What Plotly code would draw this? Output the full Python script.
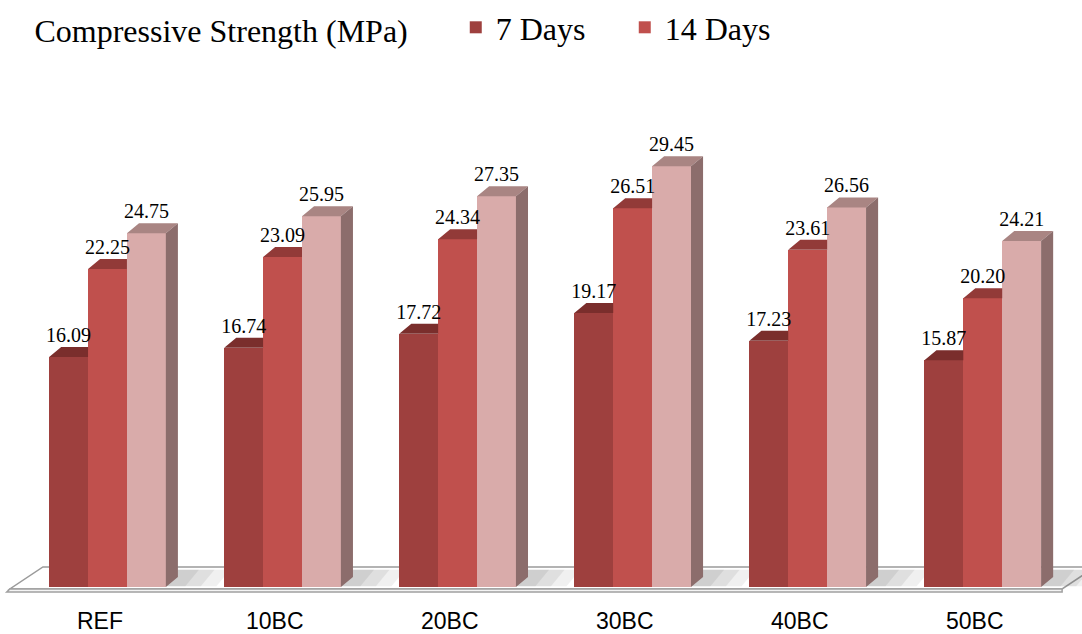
import plotly.graph_objects as go

# ---- data -------------------------------------------------------------
mixes = ["REF", "10BC", "20BC", "30BC", "40BC", "50BC"]
days_7 = [16.09, 16.74, 17.72, 19.17, 17.23, 15.87]
days_14 = [22.25, 23.09, 24.34, 26.51, 23.61, 20.20]
days_28 = [24.75, 25.95, 27.35, 29.45, 26.56, 24.21]

# ---- geometry (axis units) --------------------------------------------
GAP = 4.5          # distance between mix groups
W = 1.0            # bar width
DX, DV = 0.31, 0.70  # depth offset for the pseudo-3D faces

SERIF = "Liberation Serif, Times New Roman, serif"

series = [
    dict(name="7 Days", y=days_7, off=-1, front="#9E403E", top="#7A2E2C", legend=True),
    dict(name="14 Days", y=days_14, off=0, front="#C0504D", top="#923A38", legend=True),
    dict(name="28 Days", y=days_28, off=1, front="#D9ABAA", top="#A98583", legend=False),
]
SIDE = "#8C6D6C"

centers = [i * GAP for i in range(len(mixes))]

fig = go.Figure()

# front faces
for s in series:
    xs = [c + s["off"] * W for c in centers]
    fig.add_trace(go.Bar(
        x=xs, y=s["y"], width=W, name=s["name"], marker_color=s["front"],
        marker_line_width=0, showlegend=s["legend"], hoverinfo="y",
    ))

# top faces (clipped where the next, taller bar hides them) and right side of last bar
for k, s in enumerate(series):
    px, py = [], []
    last = k == len(series) - 1
    for c, v in zip(centers, s["y"]):
        x0 = c + s["off"] * W - W / 2
        x1 = x0 + W
        if last:
            px += [x0, x1, x1 + DX, x0 + DX, x0, None]
            py += [v, v, v + DV, v + DV, v, None]
        else:
            px += [x0, x1, x1, x0 + DX, x0, None]
            py += [v, v, v + DV, v + DV, v, None]
    fig.add_trace(go.Scatter(x=px, y=py, fill="toself", fillcolor=s["top"],
                             mode="lines", line=dict(width=0), showlegend=False,
                             hoverinfo="skip"))
    if last:
        sx, sy = [], []
        for c, v in zip(centers, s["y"]):
            x1 = c + s["off"] * W + W / 2
            sx += [x1, x1, x1 + DX, x1 + DX, x1, None]
            sy += [0, v, v + DV, DV, 0, None]
        fig.add_trace(go.Scatter(x=sx, y=sy, fill="toself", fillcolor=SIDE,
                                 mode="lines", line=dict(width=0), showlegend=False,
                                 hoverinfo="skip"))

# value labels
for s in series:
    xs = [c + s["off"] * W for c in centers]
    fig.add_trace(go.Scatter(
        x=xs, y=[v + DV for v in s["y"]], mode="text",
        text=[f"{v:.2f}" for v in s["y"]], textposition="top center",
        textfont=dict(family=SERIF, size=20, color="#000000"),
        showlegend=False, hoverinfo="skip",
    ))

# ---- floor slab ---------------------------------------------------------
FL_L, FL_R = -2.51, 24.54     # front-left / front-right x
FL_BACK_DX = 0.85
FL_FRONT, FL_BACK, FL_BOTTOM = -0.14, 1.40, -0.35
shapes = [
    dict(type="path", xref="x", yref="y", layer="below",
         path=f"M{FL_L},{FL_FRONT} L{FL_R},{FL_FRONT} L{FL_R + FL_BACK_DX},{FL_BACK} "
              f"L{FL_L + FL_BACK_DX},{FL_BACK} Z",
         fillcolor="#FFFFFF", line=dict(color="#9A9A9A", width=1.5)),
    dict(type="path", xref="x", yref="y", layer="below",
         path=f"M{FL_L},{FL_FRONT} L{FL_R},{FL_FRONT} L{FL_R},{FL_BOTTOM} "
              f"L{FL_L - 0.08},{FL_BOTTOM} Z",
         fillcolor="#F4F4F4", line=dict(color="#A0A0A0", width=1.5)),
]
# soft shadows cast on the floor to the right of each group
for c in centers:
    xr = c + 1.5 * W
    for w_extra, alpha in [(1.3, 0.10), (0.9, 0.12), (0.5, 0.14)]:
        shapes.append(dict(
            type="path", xref="x", yref="y", layer="below",
            path=f"M{xr},0.05 L{xr + w_extra},0.05 L{xr + w_extra + 0.35},{FL_BACK - 0.2} "
                 f"L{xr + DX},{FL_BACK - 0.2} Z",
            fillcolor=f"rgba(110,110,110,{alpha})", line=dict(width=0)))

# category labels under the floor
annotations = [
    dict(x=c, y=-2.4, xref="x", yref="y", text=m, showarrow=False, yanchor="middle",
         xshift=-8,
         font=dict(family="Liberation Sans Narrow, Arial Narrow, Liberation Sans, sans-serif",
                   size=23, color="#000000"))
    for c, m in zip(centers, mixes)
]

px_per_unit = 38.9
x_lo = -107.5 / px_per_unit
x_hi = (1082 - 107.5) / px_per_unit

NB = "\u00a0"
fig.update_layout(
    width=1082, height=634,
    margin=dict(l=0, r=0, t=0, b=0),
    paper_bgcolor="#FFFFFF", plot_bgcolor="#FFFFFF",
    barmode="overlay", bargap=0,
    xaxis=dict(range=[x_lo, x_hi], visible=False, fixedrange=True),
    yaxis=dict(range=[-3.29, 41.08], visible=False, fixedrange=True),
    shapes=shapes, annotations=annotations,
    legend=dict(
        orientation="h", x=0.03, y=1.0, xanchor="left", yanchor="top",
        title=dict(text="Compressive Strength (MPa)" + NB * 5,
                   font=dict(family=SERIF, size=32)),
        font=dict(family=SERIF, size=32, color="#000000"),
        bgcolor="rgba(0,0,0,0)", itemwidth=30, entrywidth=124,
    ),
    font=dict(family=SERIF, color="#000000"),
)

fig.write_html("out.html")
